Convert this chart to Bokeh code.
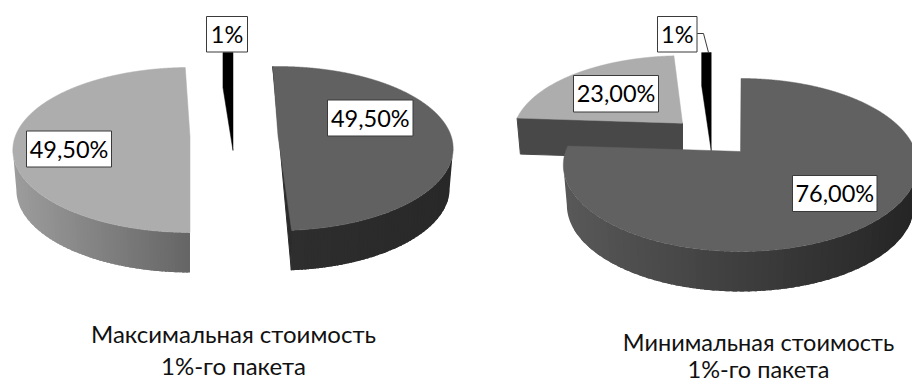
from math import sin, cos, radians
from bokeh.plotting import figure
from bokeh.models import Range1d
from bokeh.core.properties import value
from bokeh.embed import file_html
from bokeh.resources import INLINE

# Shares of each pie, in percent
max_shares = [49.5, 49.5, 1.0]
min_shares = [76.0, 23.0, 1.0]
max_labels = ["49,50%", "49,50%", "1%"]
min_labels = ["76,00%", "23,00%", "1%"]
titles = [["Максимальная стоимость", "1%-го пакета"],
          ["Минимальная стоимость", "1%-го пакета"]]

FONT = value("Lato")
DARK, LIGHT, BLACK = "#616161", "#adadad", "#000000"


def hex_mix(a, b, t):
    return "#%02x%02x%02x" % tuple(round(a[i] + (b[i] - a[i]) * t) for i in range(3))


p = figure(width=912, height=381, output_backend="svg", toolbar_location=None,
           x_range=Range1d(0, 912), y_range=Range1d(381, 0), min_border=0,
           x_axis_location=None, y_axis_location=None, outline_line_color=None)
p.grid.visible = False


def draw_slice(share, start, cx, cy, rx, ry, k, depth, top, wall_a=None, wall_b=None,
               edge_wall=None, inner_wall=None):
    """Exploded 3D sector: share sets the sweep, k the perspective of the tilted disc."""
    sweep = share * 3.6
    n = int(sweep * 4) + 8

    def project(theta):
        t = radians(theta)
        w = 1 + k * cos(t)
        return cx + rx * sin(t) / w, cy - ry * cos(t) / w

    def lower(pt):
        return cx + (pt[0] - cx) * 0.98, pt[1] + depth

    arc = [project(start + sweep * i / n) for i in range(n + 1)]
    apex = (cx, cy)
    if wall_a:
        # Side wall as overlapping vertical bands painted left to right
        rim = cy + ry * k / (1 - k * k)
        front = sorted((q for q in arc if q[1] >= rim), key=lambda q: q[0])
        lo, hi = front[0][0], front[-1][0]
        bands = 48
        xs, ys, cs = [], [], []
        for b in range(bands):
            x0 = lo + (hi - lo) * b / bands
            x1 = lo + (hi - lo) * (b + 1.5) / bands
            idx = [i for i, q in enumerate(front) if x0 <= q[0] <= x1]
            if not idx:
                continue
            seg = front[max(idx[0] - 1, 0):idx[-1] + 2]
            pts = seg + [lower(q) for q in reversed(seg)]
            xs.append([q[0] for q in pts])
            ys.append([q[1] for q in pts])
            cs.append(hex_mix(wall_a, wall_b, b / (bands - 1)))
        p.patches(xs, ys, fill_color=cs, line_color=None)
    if edge_wall:
        c = arc[0]
        pts = [c, apex, lower(apex), lower(c)]
        p.patch([q[0] for q in pts], [q[1] for q in pts], fill_color=edge_wall, line_color=edge_wall)
    if inner_wall:
        a, b = arc[0], arc[-1]
        pts = [a, b, lower(b)]
        p.patch([q[0] for q in pts], [q[1] for q in pts], fill_color=inner_wall, line_color=inner_wall)
    face = [apex] + arc
    p.patch([q[0] for q in face], [q[1] for q in face], fill_color=top, line_color=top, line_width=0.5)


def draw_sliver(share, end, cx, cy, rx, ry, rise):
    """Thin black sector whose wall rises behind it."""
    sweep = share * 3.6
    t0, t1 = radians(end - sweep), radians(end)
    a = (cx + rx * sin(t0), cy - ry * cos(t0))
    b = (cx + rx * sin(t1), cy - ry * cos(t1))
    pts = [(cx, cy), a, (a[0], a[1] - rise), (b[0], b[1] - rise), b]
    p.patch([q[0] for q in pts], [q[1] for q in pts], fill_color=BLACK, line_color=BLACK, line_width=0.5)


def draw_label(text, left, right, top, bottom):
    p.quad(left=[left], right=[right], top=[top], bottom=[bottom], fill_color="#ffffff",
           line_color="#3a3a3a", line_width=1)
    p.text([(left + right) / 2], [(top + bottom) / 2 - 0.5], text=[text], text_font=FONT,
           text_font_size="23.5px", text_align="center", text_baseline="middle", text_color="#000000")


# Left pie
draw_slice(max_shares[1], 180, 189.5, 136.6, 175, 80.5, 0.156, 40, LIGHT,
           wall_a=(0x9c, 0x9c, 0x9c), wall_b=(0x66, 0x66, 0x66))
draw_slice(max_shares[0], -2, 277.5, 135.2, 173, 80, 0.156, 40, DARK,
           wall_a=(0x2e, 0x2e, 0x2e), wall_b=(0x28, 0x28, 0x28), inner_wall="#2b2b2b")
draw_sliver(max_shares[2], 0, 232.5, 150, 160, 63, 35)

# Right pie
draw_slice(min_shares[1], 273.8, 682, 122.7, 167.5, 78, 0.156, 36, LIGHT, edge_wall="#484848")
draw_slice(min_shares[0], 0.2, 740, 151, 175, 84.4, 0.156, 40, DARK,
           wall_a=(0x58, 0x58, 0x58), wall_b=(0x25, 0x25, 0x25))
draw_sliver(min_shares[2], 0, 710.7, 150, 152, 65, 33)

# Leader line of the small slice
p.line([696.7, 703, 708], [33, 33, 52], line_color="#3a3a3a", line_width=1)

# Value labels
draw_label(max_labels[1], 26, 111, 130.5, 166.5)
draw_label(max_labels[0], 327, 412.5, 99.5, 135.5)
draw_label(max_labels[2], 206, 247, 16, 51.5)
draw_label(min_labels[1], 573, 658, 75, 111.5)
draw_label(min_labels[0], 792, 876.5, 175, 211)
draw_label(min_labels[2], 657, 696.5, 16, 51.5)

# Captions under each pie
for lines, x, y0, gap, size in ((titles[0], 233, 333, 31.5, "24px"), (titles[1], 758, 341, 27, "23.5px")):
    for i, line in enumerate(lines):
        p.text([x], [y0 + i * gap], text=[line], text_font=FONT, text_font_size=size,
               text_align="center", text_baseline="middle", text_color="#111111")

open("out.html", "w").write(file_html(p, INLINE))
